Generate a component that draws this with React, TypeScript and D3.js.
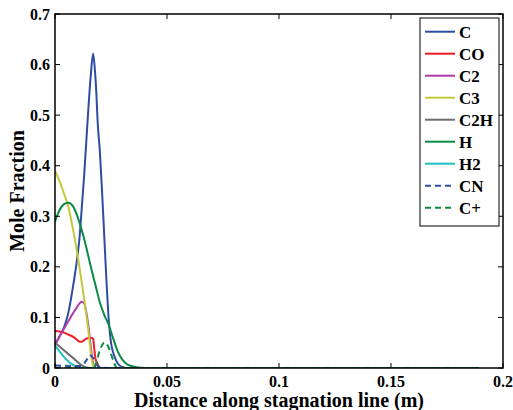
import React from "react";
import { scaleLinear, line, curveMonotoneX } from "d3";

// species (x in m, mole fraction)
const xC = [0, 0.002, 0.004, 0.006, 0.008, 0.01, 0.011, 0.012, 0.013, 0.014, 0.015, 0.016, 0.017, 0.0178, 0.0185, 0.019, 0.02, 0.021, 0.022, 0.023, 0.024, 0.025, 0.026, 0.027, 0.028, 0.03, 0.032, 0.189];
const yC = [0.045, 0.062, 0.08, 0.11, 0.16, 0.22, 0.26, 0.32, 0.38, 0.45, 0.52, 0.58, 0.622, 0.59, 0.54, 0.49, 0.43, 0.35, 0.26, 0.17, 0.095, 0.05, 0.03, 0.018, 0.009, 0.002, 0, 0];

const xCO = [0, 0.002, 0.004, 0.006, 0.008, 0.01, 0.011, 0.012, 0.013, 0.014, 0.016, 0.017, 0.0175, 0.018, 0.019, 0.0195, 0.02, 0.189];
const yCO = [0.073, 0.072, 0.07, 0.066, 0.062, 0.055, 0.052, 0.052, 0.055, 0.058, 0.06, 0.058, 0.04, 0.02, 0.008, 0.002, 0, 0];

const xC2 = [0, 0.003, 0.006, 0.009, 0.012, 0.013, 0.014, 0.015, 0.016, 0.017, 0.018, 0.189];
const yC2 = [0.047, 0.07, 0.093, 0.115, 0.131, 0.128, 0.11, 0.08, 0.04, 0.01, 0, 0];

const xC3 = [0, 0.002, 0.004, 0.006, 0.008, 0.01, 0.012, 0.014, 0.015, 0.016, 0.017, 0.018, 0.189];
const yC3 = [0.39, 0.37, 0.345, 0.318, 0.275, 0.225, 0.168, 0.105, 0.07, 0.03, 0.005, 0, 0];

const xC2H = [0, 0.004, 0.008, 0.012, 0.014, 0.016, 0.189];
const yC2H = [0.05, 0.035, 0.02, 0.005, 0.001, 0, 0];

const xH = [0, 0.002, 0.004, 0.006, 0.008, 0.01, 0.012, 0.014, 0.016, 0.018, 0.02, 0.022, 0.024, 0.026, 0.028, 0.03, 0.032, 0.034, 0.037, 0.04, 0.189];
const yH = [0.29, 0.312, 0.324, 0.327, 0.32, 0.3, 0.272, 0.238, 0.2, 0.165, 0.13, 0.105, 0.085, 0.058, 0.033, 0.017, 0.008, 0.004, 0.001, 0, 0];

const xH2 = [0, 0.002, 0.004, 0.006, 0.008, 0.01, 0.012, 0.014, 0.189];
const yH2 = [0.045, 0.033, 0.022, 0.013, 0.006, 0.002, 0.0005, 0, 0];

const xCN = [0, 0.01, 0.012, 0.014, 0.0155, 0.017, 0.019, 0.021, 0.025, 0.189];
const yCN = [0.005, 0.004, 0.005, 0.015, 0.025, 0.02, 0.005, 0.001, 0, 0];

const xCp = [0, 0.017, 0.018, 0.019, 0.02, 0.021, 0.022, 0.023, 0.024, 0.025, 0.026, 0.027, 0.028, 0.189];
const yCp = [0, 0, 0.005, 0.02, 0.035, 0.045, 0.05, 0.048, 0.04, 0.028, 0.015, 0.004, 0, 0];

const names = ["C", "CO", "C2", "C3", "C2H", "H", "H2", "CN", "C+"];
const colors = ["#2b4ea2", "#ed1c24", "#b23aad", "#c4c93a", "#6d6e70", "#0b8a45", "#1fbfc4", "#2b4ea2", "#0b8a45"];
const dashed = [false, false, false, false, false, false, false, true, true];
const seriesX = [xC, xCO, xC2, xC3, xC2H, xH, xH2, xCN, xCp];
const seriesY = [yC, yCO, yC2, yC3, yC2H, yH, yH2, yCN, yCp];

const xTicks = [0, 0.05, 0.1, 0.15, 0.2];
const yTicks = [0, 0.1, 0.2, 0.3, 0.4, 0.5, 0.6, 0.7];

const W = 513, H = 410;
const left = 55, right = 503, top = 14, bottom = 368;
const font = "'Liberation Serif', 'Times New Roman', serif";

export default function App() {
  const x = scaleLinear().domain([0, 0.2]).range([left, right]);
  const y = scaleLinear().domain([0, 0.7]).range([bottom, top]);
  const gen = line<[number, number]>()
    .x(d => x(d[0]))
    .y(d => y(d[1]))
    .curve(curveMonotoneX);

  const legX = 420, legY = 18, legW = 79, legH = 208;

  return (
    <svg width={W} height={H} style={{ position: "absolute", left: 0, top: 0, background: "#fff" }}>
      <defs>
        <clipPath id="plot">
          <rect x={left} y={top} width={right - left} height={bottom - top} />
        </clipPath>
      </defs>
      <g clipPath="url(#plot)">
        {seriesX.map((xs, i) => (
          <path
            key={names[i]}
            d={gen(xs.map((v, j) => [v, seriesY[i][j]] as [number, number])) || ""}
            fill="none"
            stroke={colors[i]}
            strokeWidth={2}
            strokeDasharray={dashed[i] ? "6,4" : undefined}
          />
        ))}
      </g>
      {/* axis box */}
      <rect x={left} y={top} width={right - left} height={bottom - top} fill="none" stroke="#000" strokeWidth={1.5} />
      {xTicks.map(t => (
        <g key={"x" + t}>
          <line x1={x(t)} x2={x(t)} y1={bottom} y2={bottom - 5} stroke="#000" />
          <line x1={x(t)} x2={x(t)} y1={top} y2={top + 5} stroke="#000" />
          <text x={x(t)} y={387} textAnchor="middle" fontFamily={font} fontWeight="bold" fontSize={16}>{t}</text>
        </g>
      ))}
      {yTicks.map(t => (
        <g key={"y" + t}>
          <line x1={left} x2={left + 5} y1={y(t)} y2={y(t)} stroke="#000" />
          <line x1={right} x2={right - 5} y1={y(t)} y2={y(t)} stroke="#000" />
          <text x={50} y={y(t) + 5.5} textAnchor="end" fontFamily={font} fontWeight="bold" fontSize={16}>{t}</text>
        </g>
      ))}
      <text x={x(0.1)} y={407} textAnchor="middle" fontFamily={font} fontWeight="bold" fontSize={20}>
        Distance along stagnation line (m)
      </text>
      <text transform={`translate(24,${(top + bottom) / 2}) rotate(-90)`} textAnchor="middle" fontFamily={font} fontWeight="bold" fontSize={20}>
        Mole Fraction
      </text>
      {/* legend */}
      <rect x={legX} y={legY} width={legW} height={legH} fill="#fff" stroke="#000" strokeWidth={1} />
      {names.map((n, i) => {
        const ly = 31.7 + i * 22;
        return (
          <g key={"l" + n}>
            <line x1={425} x2={455} y1={ly} y2={ly} stroke={colors[i]} strokeWidth={2} strokeDasharray={dashed[i] ? "6,4" : undefined} />
            <text x={459} y={ly + 6} fontFamily={font} fontWeight="bold" fontSize={17}>{n}</text>
          </g>
        );
      })}
    </svg>
  );
}
